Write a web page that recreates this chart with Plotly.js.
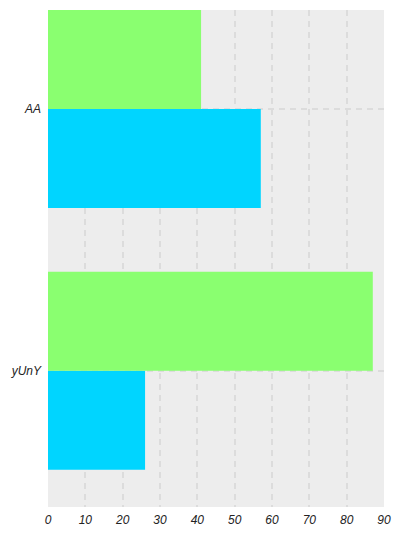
<!DOCTYPE html>
<html>
<head>
<meta charset="utf-8">
<script src="https://cdn.plot.ly/plotly-3.0.1.min.js"></script>
<style>html,body{margin:0;padding:0;background:#fff}#chart{width:402px;height:536px}</style>
</head>
<body>
<div id="chart"></div>
<script>
const categories = ["yUnY", "AA"];
const seriesCyan = [26, 57];
const seriesGreen = [87, 41];
const xTicks = [0, 10, 20, 30, 40, 50, 60, 70, 80, 90];

const traces = [
  {type: "bar", orientation: "h", y: categories, x: seriesCyan, name: "A",
   marker: {color: "#00d5ff", line: {width: 0}}, hoverinfo: "none"},
  {type: "bar", orientation: "h", y: categories, x: seriesGreen, name: "B",
   marker: {color: "#8aff70", line: {width: 0}}, hoverinfo: "none"}
];

const tickFont = {family: "Liberation Sans, Arial, sans-serif", size: 12, color: "#222222", style: "italic"};

const layout = {
  width: 402, height: 536,
  margin: {l: 48, r: 18, t: 10, b: 29, pad: 0},
  paper_bgcolor: "#ffffff",
  plot_bgcolor: "#ededed",
  barmode: "group",
  bargap: 0.244,
  bargroupgap: 0,
  showlegend: false,
  xaxis: {
    range: [0, 90], tickvals: xTicks, ticktext: xTicks.map(String),
    showgrid: true, gridcolor: "#dcdcdc", griddash: "6px,5px", gridwidth: 2,
    zeroline: false, showline: false, ticks: "", tickfont: tickFont,
    ticklabelstandoff: 4, fixedrange: true
  },
  yaxis: {
    type: "category", categoryorder: "array", categoryarray: categories,
    range: [-0.52, 1.378],
    showgrid: true, gridcolor: "#dcdcdc", griddash: "6px,5px", gridwidth: 2,
    zeroline: false, showline: false, ticks: "", tickfont: tickFont,
    ticklabelstandoff: 6, fixedrange: true
  }
};

Plotly.newPlot("chart", traces, layout, {displayModeBar: false, staticPlot: true});
</script>
</body>
</html>
